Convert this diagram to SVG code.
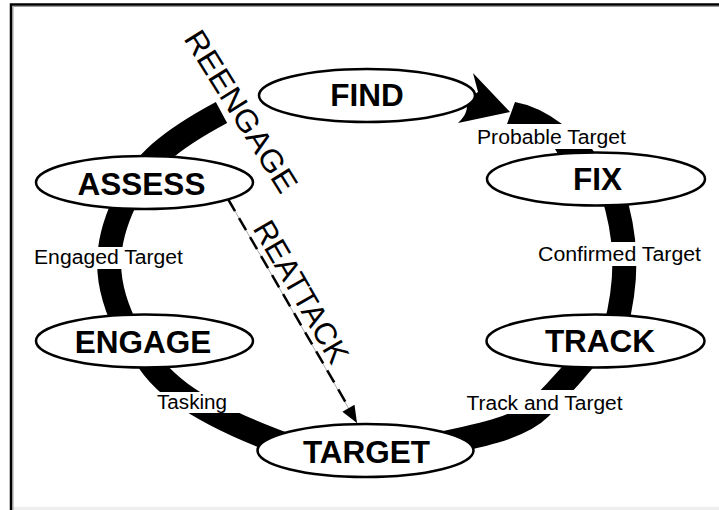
<svg xmlns="http://www.w3.org/2000/svg" width="719" height="510" viewBox="0 0 719 510">
<style>
.node ellipse{fill:#fff;stroke:#000;stroke-width:2.5}
.node text{font-family:"Liberation Sans",Arial,sans-serif;font-weight:bold;font-size:31.5px;text-anchor:middle;fill:#000}
.band{fill:none;stroke:#000;stroke-width:24;stroke-linecap:butt}
.solid{fill:#000;stroke:none}
.lbl rect{fill:#fff;stroke:none}
.lbl text{font-family:"Liberation Sans",Arial,sans-serif;font-size:20px;text-anchor:middle;fill:#000}
.rot{font-family:"Liberation Sans",Arial,sans-serif;font-size:31px;text-anchor:middle;fill:#000}
</style>
<rect x="0" y="0" width="719" height="510" fill="#fff"/>
<g id="frame">
<rect x="13" y="507" width="706" height="3" fill="#eeeeee"/>
<path d="M13,510 V6.5 H719" fill="none" stroke="#999" stroke-width="1"/>
<path d="M11,510 V4.5 H719" fill="none" stroke="#000" stroke-width="2.5"/>
</g>
<g id="connectors">
<path class="band" d="M130,195 C140,165 170,140 221.5,112.5"/>
<path class="band" d="M128,195 C105,240 100,280 130,335"/>
<path class="band" d="M138,340 C150,375 185,410 300,450"/>
<path class="band" d="M420,448 C480,436 520,428 540,408 S575,372 600,340"/>
<path class="band" d="M612,190 C628,240 628,280 615,330"/>
<path class="solid" d="M515,102 Q538,106 562,124 L592,149 L606,168 L566,168 L555,149 L507,124 Z"/>
<path class="solid" d="M473,73 L510,112 L458,123 Q470,112 466,100 L478,92 Z"/>
</g>
<g id="labels" class="lbl">
<g id="lbl-probable"><rect x="472" y="124" width="160" height="25"/><text x="551.5" y="144" textLength="149" lengthAdjust="spacingAndGlyphs">Probable Target</text></g>
<g id="lbl-confirmed"><rect x="534" y="242" width="172" height="24"/><text x="619.5" y="261" textLength="163" lengthAdjust="spacingAndGlyphs">Confirmed Target</text></g>
<g id="lbl-engaged"><rect x="30" y="247" width="158" height="22"/><text x="108.5" y="264" textLength="149" lengthAdjust="spacingAndGlyphs">Engaged Target</text></g>
<g id="lbl-tasking"><rect x="150" y="392" width="90" height="21"/><text x="192" y="409" textLength="70" lengthAdjust="spacingAndGlyphs">Tasking</text></g>
<g id="lbl-track"><rect x="462" y="390" width="166" height="24"/><text x="544.5" y="410" textLength="156" lengthAdjust="spacingAndGlyphs">Track and Target</text></g>
</g>
<g id="find" class="node"><ellipse cx="367" cy="95.5" rx="108" ry="26.5"/><text x="367" y="106">FIND</text></g>
<g id="fix" class="node"><ellipse cx="596" cy="179" rx="109" ry="26.5"/><text x="597.5" y="190">FIX</text></g>
<g id="track" class="node"><ellipse cx="595.5" cy="341" rx="109" ry="26.5"/><text x="600" y="352">TRACK</text></g>
<g id="target" class="node"><ellipse cx="365.5" cy="450.5" rx="108" ry="26.5"/><text x="366.5" y="463">TARGET</text></g>
<g id="engage" class="node"><ellipse cx="144.5" cy="341" rx="108.5" ry="26.5"/><text x="143" y="353">ENGAGE</text></g>
<g id="assess" class="node"><ellipse cx="144.5" cy="182.5" rx="108.5" ry="26.5"/><text x="141.5" y="195">ASSESS</text></g>
<g id="reattack-link">
<line x1="228" y1="199" x2="357" y2="423" stroke="#aaa" stroke-width="1"/>
<line x1="228" y1="199" x2="349" y2="408" stroke="#000" stroke-width="2.5" stroke-dasharray="14 8"/>
<polygon points="357,423 354.5,404.8 342.4,411.8" fill="#000"/>
</g>
<text id="reengage" class="rot" transform="translate(232,117) rotate(58)" textLength="185" lengthAdjust="spacingAndGlyphs">REENGAGE</text>
<text id="reattack" class="rot" transform="translate(292,297) rotate(60)" textLength="159" lengthAdjust="spacingAndGlyphs">REATTACK</text>
</svg>
